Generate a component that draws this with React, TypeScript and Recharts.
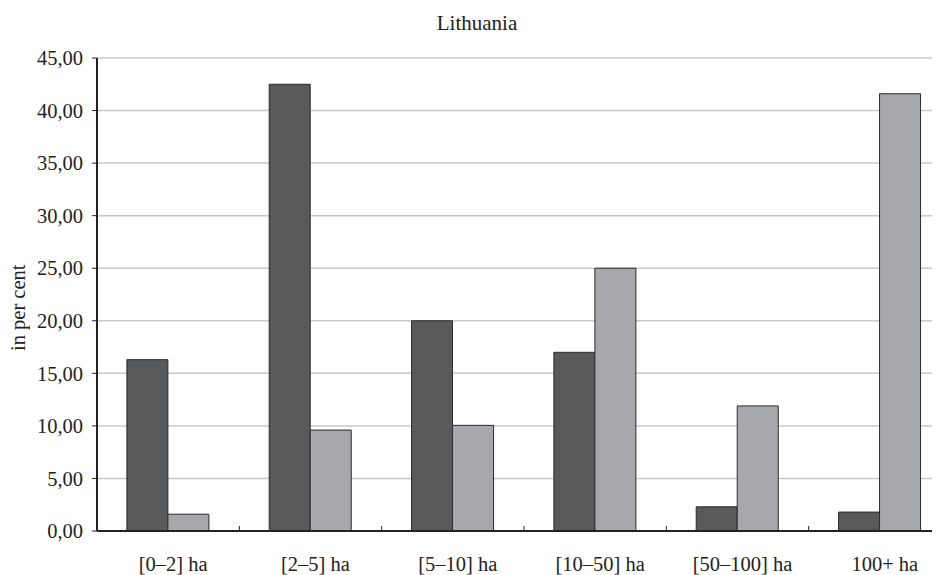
import React from "react";
import { Bar, BarChart, CartesianGrid, XAxis, YAxis } from "recharts";

const categories = ["[0–2] ha", "[2–5] ha", "[5–10] ha", "[10–50] ha", "[50–100] ha", "100+ ha"];
const farmsShare = [16.3, 42.5, 20.0, 17.0, 2.3, 1.8];
const areaShare = [1.6, 9.6, 10.05, 25.0, 11.9, 41.6];
const yTicks = [0, 5, 10, 15, 20, 25, 30, 35, 40, 45];

const data = categories.map((c, i) => ({ cat: c, farms: farmsShare[i], area: areaShare[i] }));

const FONT = "'Liberation Serif', 'Times New Roman', serif";
const CHART_W = 960;
const CHART_H = 567;
const MARGIN = { top: 50, right: 17, left: 0, bottom: 4 };
const Y_W = 89;
const BAND = (CHART_W - MARGIN.left - MARGIN.right - Y_W) / categories.length;

const fmt = (v: number) => v.toFixed(2).replace(".", ",");

function CatTick(props: any) {
  const { x, y, payload } = props;
  return (
    <g>
      <line x1={x + BAND / 2} x2={x + BAND / 2} y1={y} y2={y - 5} stroke="#222" strokeWidth={1} />
      <text x={x + 5} y={y + 40} textAnchor="middle" fontFamily={FONT} fontSize={20.5} fill="#222">
        {payload.value}
      </text>
    </g>
  );
}

export default function App() {
  return (
    <div style={{ position: "relative", width: 932, height: CHART_H, overflow: "hidden", fontFamily: FONT }}>
      <div
        style={{
          position: "absolute",
          left: 477 - 8 - 100,
          width: 200,
          top: 3,
          textAlign: "center",
          fontSize: 21,
          lineHeight: "24px",
          color: "#222",
        }}
      >
        Lithuania
      </div>
      <div
        style={{
          position: "absolute",
          left: 0,
          width: 20,
          top: 308 - 8 - 60,
          height: 120,
          textAlign: "center",
          fontSize: 20.5,
          color: "#222",
          writingMode: "vertical-rl",
          transform: "rotate(180deg)",
          lineHeight: "20px",
          whiteSpace: "nowrap",
        }}
      >
        in per cent
      </div>
      <BarChart
        width={CHART_W}
        height={CHART_H}
        data={data}
        margin={MARGIN}
        barCategoryGap="21%"
        barGap={0}
      >
        <CartesianGrid vertical={false} stroke="#c8c8c8" strokeWidth={1.5} />
        <XAxis
          dataKey="cat"
          height={40}
          axisLine={{ stroke: "#222", strokeWidth: 2 }}
          tickLine={false}
          tickSize={0}
          tickMargin={0}
          tick={<CatTick />}
          interval={0}
        />
        <YAxis
          width={Y_W}
          domain={[0, 45]}
          ticks={yTicks}
          tickFormatter={fmt}
          axisLine={{ stroke: "#222", strokeWidth: 2 }}
          tickLine={{ stroke: "#222" }}
          tickSize={5}
          tickMargin={9}
          tick={{ fontFamily: FONT, fontSize: 20.5, fill: "#222" }}
          interval={0}
        />
        <Bar dataKey="farms" fill="#58595b" stroke="#2a2a2a" strokeWidth={1} isAnimationActive={false} />
        <Bar dataKey="area" fill="#a7a8ab" stroke="#2a2a2a" strokeWidth={1} isAnimationActive={false} />
      </BarChart>
    </div>
  );
}
